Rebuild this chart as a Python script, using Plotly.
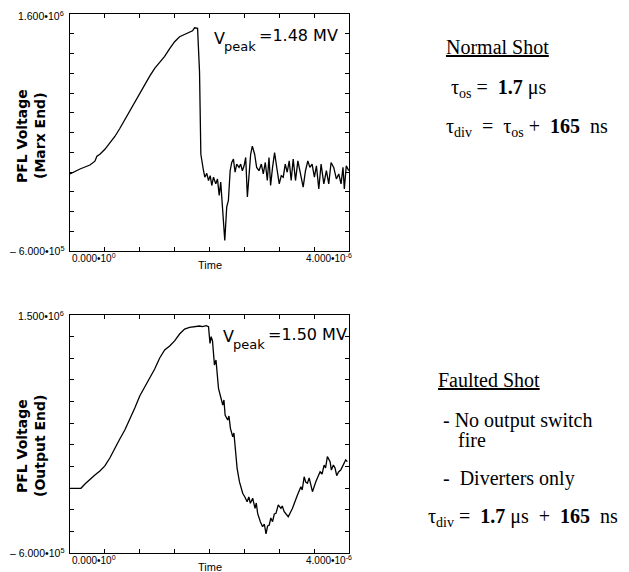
import numpy as np
import plotly.graph_objects as go

# ---------------- data (time in microseconds, voltage in MV) ----------------
normal_t_us = [0, 0.143, 0.286, 0.357, 0.386, 0.429, 0.500, 0.571, 0.643, 0.714,
               0.786, 0.857, 0.929, 1.000, 1.071, 1.143, 1.214, 1.286, 1.357, 1.429,
               1.500, 1.571, 1.643, 1.714, 1.757, 1.786, 1.829, 1.857,
               1.876, 1.914, 1.933, 1.961, 1.986, 2.010, 2.033, 2.057, 2.090, 2.114,
               2.139, 2.161, 2.186, 2.219, 2.247, 2.271, 2.296, 2.319, 2.343, 2.367,
               2.390, 2.424, 2.447, 2.471, 2.496, 2.519, 2.543, 2.567, 2.590, 2.614,
               2.647, 2.676, 2.710, 2.743, 2.771, 2.800, 2.829, 2.853, 2.876, 2.904,
               2.933, 2.971, 3.000, 3.029, 3.057, 3.086, 3.114, 3.143, 3.171, 3.200,
               3.233, 3.267, 3.304, 3.343, 3.376, 3.410, 3.439, 3.471, 3.504, 3.533,
               3.567, 3.600, 3.639, 3.676, 3.710, 3.743, 3.781, 3.819, 3.853, 3.886,
               3.914, 3.933, 3.961, 3.996]
normal_v_mv = [0.115, 0.161, 0.198, 0.234, 0.280, 0.298, 0.344, 0.399, 0.463, 0.537,
               0.619, 0.711, 0.793, 0.867, 0.949, 1.023, 1.096, 1.151, 1.206, 1.279,
               1.343, 1.389, 1.408, 1.426, 1.444, 1.472, 1.467, 1.062,
               0.298, 0.145, 0.085, 0.121, 0.054, 0.099, 0.008, 0.085, 0.023, 0.069,
               -0.084, 0.039, -0.160, -0.502, -0.190, -0.130, 0.145, 0.222, 0.253, 0.131,
               0.207, 0.176, 0.207, 0.145, 0.191, 0.268, -0.099, 0.145, 0.298, 0.374,
               0.298, 0.176, 0.145, 0.207, 0.115, 0.222, 0.054, 0.268, 0.008, 0.176,
               0.314, 0.145, 0.023, 0.099, 0.085, 0.207, 0.131, 0.237, 0.054, 0.253,
               0.054, 0.237, 0.131, -0.007, 0.145, 0.237, 0.176, 0.207, 0.085, 0.191,
               -0.023, 0.207, 0.023, 0.145, 0.023, 0.222, 0.176, 0.069, 0.115, 0.023,
               0.176, -0.023, 0.191, 0.145]

faulted_t_us = [0, 0.157, 0.214, 0.286, 0.357, 0.429, 0.500, 0.571, 0.643, 0.714,
                0.786, 0.857, 0.929, 1.000, 1.071, 1.143, 1.214, 1.286, 1.357, 1.429,
                1.500, 1.571, 1.643, 1.714, 1.786, 1.857, 1.900, 1.953, 1.986,
                2.007, 2.024, 2.043, 2.071, 2.093, 2.129, 2.157, 2.190, 2.207, 2.224,
                2.261, 2.279, 2.300, 2.333, 2.350, 2.367, 2.396, 2.429, 2.476, 2.507,
                2.539, 2.564, 2.586, 2.619, 2.653, 2.671, 2.690, 2.729, 2.761, 2.786,
                2.810, 2.833, 2.857, 2.879, 2.904, 2.929, 2.953, 2.986, 3.024, 3.043,
                3.071, 3.129, 3.190, 3.261, 3.310, 3.329, 3.357, 3.379, 3.404, 3.429,
                3.453, 3.476, 3.524, 3.557, 3.586, 3.614, 3.643, 3.664, 3.690, 3.729,
                3.747, 3.776, 3.800, 3.824, 3.850, 3.881, 3.914, 3.953, 3.976]
faulted_v_mv = [-0.029, -0.029, 0.009, 0.053, 0.088, 0.124, 0.168, 0.238, 0.326, 0.406,
                0.485, 0.574, 0.679, 0.785, 0.865, 0.944, 1.024, 1.121, 1.191, 1.226,
                1.271, 1.332, 1.376, 1.390, 1.394, 1.403, 1.398, 1.406, 1.397,
                1.250, 1.309, 1.271, 1.059, 1.103, 0.853, 0.794, 0.706, 0.750, 0.618,
                0.574, 0.609, 0.500, 0.426, 0.459, 0.324, 0.147, 0.029, -0.073, -0.106,
                -0.147, -0.106, -0.161, -0.117, -0.206, -0.159, -0.250, -0.324, -0.368, -0.344,
                -0.432, -0.362, -0.353, -0.291, -0.324, -0.256, -0.250, -0.176, -0.206, -0.185,
                -0.236, -0.280, -0.206, -0.088, -0.015, -0.044, 0.073, 0.026, 0.015, 0.062,
                -0.015, -0.059, 0.029, 0.079, 0.117, 0.097, 0.176, 0.150, 0.250, 0.206,
                0.132, 0.176, 0.150, 0.082, 0.115, 0.132, 0.176, 0.221, 0.206]

x_range = [0.0, 4.0e-6]
top_y_range = [-6.0e5, 1.6e6]
bot_y_range = [-6.0e5, 1.5e6]
x_tick_labels = ["0.000•10<sup>0</sup>", "4.000•10<sup>-6</sup>"]
top_y_tick_labels = ["1.600•10<sup>6</sup>", "– 6.000•10<sup>5</sup>"]
bot_y_tick_labels = ["1.500•10<sup>6</sup>", "– 6.000•10<sup>5</sup>"]

# ---------------- layout helpers ----------------
W, H = 629, 572
def px(x):
    return x / W
def py(y):
    return 1 - y / H

TOP = dict(x0=70, x1=349, y0=14, y1=251)
BOT = dict(x0=70, x1=349, y0=315, y1=553)

SANS = "Liberation Sans, Arial, sans-serif"
WIDE = "DejaVu Sans, Verdana, sans-serif"
SERIF = "Liberation Serif, Times New Roman, serif"

fig = go.Figure()
fig.add_trace(go.Scatter(x=np.array(normal_t_us) * 1e-6, y=np.array(normal_v_mv) * 1e6,
                         mode="lines", line=dict(color="black", width=1.3),
                         xaxis="x", yaxis="y", showlegend=False, hoverinfo="skip"))
fig.add_trace(go.Scatter(x=np.array(faulted_t_us) * 1e-6, y=np.array(faulted_v_mv) * 1e6,
                         mode="lines", line=dict(color="black", width=1.3),
                         xaxis="x2", yaxis="y2", showlegend=False, hoverinfo="skip"))

x_minor = list(np.linspace(x_range[0], x_range[1], 9)[1:-1])
top_y_minor = list(np.linspace(top_y_range[0], top_y_range[1], 13)[1:-1])
bot_y_minor = list(np.linspace(bot_y_range[0], bot_y_range[1], 12)[1:-1])

def xaxis(box, anchor, ticks):
    return dict(domain=[px(box["x0"]), px(box["x1"])], range=x_range, anchor=anchor,
                showline=True, linecolor="black", linewidth=1.2, mirror="allticks",
                ticks="inside", ticklen=4, tickcolor="black", tickwidth=1,
                tickvals=ticks, showticklabels=False, showgrid=False, zeroline=False,
                fixedrange=True)

def yaxis(box, anchor, rng, ticks):
    return dict(domain=[py(box["y1"]), py(box["y0"])], range=rng, anchor=anchor,
                showline=True, linecolor="black", linewidth=1.2, mirror="allticks",
                ticks="inside", ticklen=4, tickcolor="black", tickwidth=1,
                tickvals=ticks, showticklabels=False, showgrid=False, zeroline=False,
                fixedrange=True)

ann = []
def text(x, y, s, size, font=SANS, xanchor="center", yanchor="middle", angle=0):
    ann.append(dict(x=px(x), y=py(y), xref="paper", yref="paper", text=s, showarrow=False,
                    xanchor=xanchor, yanchor=yanchor, textangle=angle, borderpad=0,
                    font=dict(family=font, size=size, color="black")))

for box, ylabels, sub, cy in [(TOP, top_y_tick_labels, "(Marx End)", 136),
                              (BOT, bot_y_tick_labels, "(Output End)", 446)]:
    text(box["x0"] - 5, box["y0"] + 1, ylabels[0], 10.5, xanchor="right")
    text(box["x0"] - 5, box["y1"] - 1, ylabels[1], 10.5, xanchor="right")
    text(box["x0"] + 1, box["y1"] + 7, x_tick_labels[0], 10, xanchor="left")
    text(box["x1"] + 4, box["y1"] + 7, x_tick_labels[1], 10, xanchor="right")
    text((box["x0"] + box["x1"]) / 2, box["y1"] + 14, "Time", 11)
    text(22, cy, "<b>PFL Voltage</b>", 14, font=WIDE, angle=-90)
    text(40, cy, "<b>" + sub + "</b>", 14, font=WIDE, angle=-90)

# V_peak labels, built from pieces
for vx, vy, label in [(213, 38, "=1.48 MV"), (222, 336, "=1.50 MV")]:
    text(vx, vy, "V", 16, font=WIDE, xanchor="left")
    text(vx + 10, vy + 8, "peak", 13, font=WIDE, xanchor="left")
    text(vx + 45, vy - 2, label, 16, font=WIDE, xanchor="left")

# right-hand notes
text(497, 47, "<u>Normal Shot</u>", 20, font=SERIF)
text(499, 88, "τ<sub>os</sub> =  <b>1.7</b> μs", 20, font=SERIF)
text(527, 128, "τ<sub>div</sub>  =  τ<sub>os</sub> +  <b>165</b>  ns", 20, font=SERIF)
text(437, 380, "<u>Faulted Shot</u>", 20, font=SERIF, xanchor="left")
text(442, 420, "- No output switch", 20, font=SERIF, xanchor="left")
text(457, 440, "fire", 20, font=SERIF, xanchor="left")
text(442, 478, "-  Diverters only", 20, font=SERIF, xanchor="left")
text(523, 517, "τ<sub>div</sub> =  <b>1.7</b> μs  +  <b>165</b>  ns", 20, font=SERIF)

fig.update_layout(
    width=W, height=H, margin=dict(l=0, r=0, t=0, b=0),
    paper_bgcolor="white", plot_bgcolor="white",
    xaxis=xaxis(TOP, "y", x_minor), yaxis=yaxis(TOP, "x", top_y_range, top_y_minor),
    xaxis2=xaxis(BOT, "y2", x_minor), yaxis2=yaxis(BOT, "x2", bot_y_range, bot_y_minor),
    annotations=ann, showlegend=False,
)
fig.write_html("out.html")
